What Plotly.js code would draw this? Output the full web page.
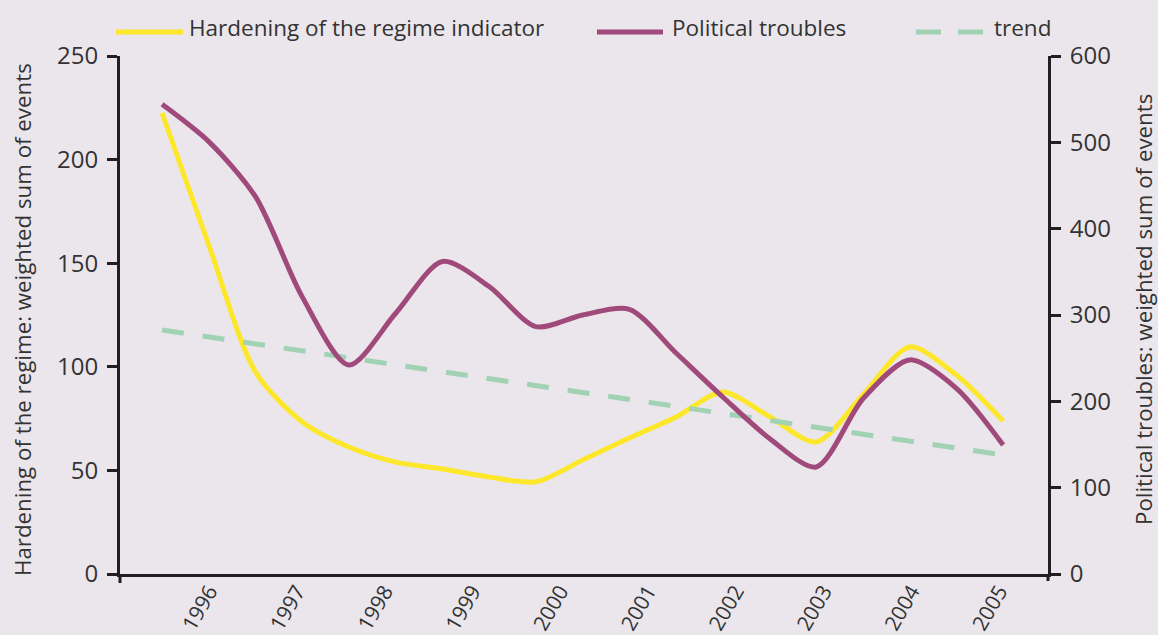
<!DOCTYPE html>
<html>
<head>
<meta charset="utf-8">
<script src="https://cdn.plot.ly/plotly-3.0.1.min.js"></script>
<style>
html,body{margin:0;padding:0;background:#ebe6ec;}
#chart{width:1158px;height:635px;}
</style>
</head>
<body>
<div id="chart"></div>
<script>
// ---- data ----
const years = [1996, 1997, 1998, 1999, 2000, 2001, 2002, 2003, 2004, 2005];
const yearLabels = ['1996', '1997', '1998', '1999', '2000', '2001', '2002', '2003', '2004', '2005'];
const period = [1996, 1996.5, 1997, 1997.5, 1998, 1998.5, 1999, 1999.5, 2000, 2000.5,
                2001, 2001.5, 2002, 2002.5, 2003, 2003.5, 2004, 2004.5, 2005];
const hardening = [222.5, 158.8, 97.5, 73.4, 61.3, 54, 50.7, 46.8, 44.5, 55,
                   65.6, 75.8, 87.8, 76, 63.7, 86.4, 109.6, 96, 73.8];
const troubles = [544, 500.8, 437, 321, 242, 302, 362, 333, 286.5, 300,
                  306.6, 256, 205, 157, 124, 203, 248, 215, 149.4];
const trendX = [1996, 2005];
const trendY = [282.6, 137.8];

const seriesNames = ['Hardening of the regime indicator', 'Political troubles', 'trend'];
const leftTitle = 'Hardening of the regime: weighted sum of events';
const rightTitle = 'Political troubles: weighted sum of events';

// ---- style ----
const BG = '#ebe6ec';
const YELLOW = '#fde72a';
const PURPLE = '#a04a7c';
const GREEN = '#a0d2b3';
const INK = '#231f20';
const TXT = '#333333';
const FONT = 'Open Sans, Liberation Sans, sans-serif';

// plot area in pixels
const L = 120, R = 1048, T = 56, B = 574;
const px = x => (x - L) / (R - L);
const py = y => (B - y) / (B - T);

const traces = [
  {x: period, y: hardening, type: 'scatter', mode: 'lines', name: seriesNames[0],
   line: {color: YELLOW, width: 5, shape: 'spline', smoothing: 0.8}, yaxis: 'y', xaxis: 'x'},
  {x: period, y: troubles, type: 'scatter', mode: 'lines', name: seriesNames[1],
   line: {color: PURPLE, width: 5, shape: 'spline', smoothing: 0.8}, yaxis: 'y2', xaxis: 'x'},
  {x: trendX, y: trendY, type: 'scatter', mode: 'lines', name: seriesNames[2],
   line: {color: GREEN, width: 5, dash: '22px,19px'}, yaxis: 'y2', xaxis: 'x'},
  // carrier for the year-label axis
  {x: years, y: years.map(() => null), type: 'scatter', mode: 'lines', xaxis: 'x2', yaxis: 'y',
   showlegend: false, hoverinfo: 'skip'}
];
// put the trend beneath the others
const ordered = [traces[2], traces[0], traces[1], traces[3]];

const legendItems = [
  {x0: 116, x1: 183, tx: 187, color: YELLOW, dash: 'solid', name: seriesNames[0]},
  {x0: 597, x1: 663, tx: 670, color: PURPLE, dash: 'solid', name: seriesNames[1]},
  {x0: 916, x1: 983, tx: 992, color: GREEN, dash: '25px,17px', name: seriesNames[2]}
];

const shapes = [];
const annotations = [];
legendItems.forEach(it => {
  shapes.push({type: 'line', xref: 'paper', yref: 'paper', x0: px(it.x0), x1: px(it.x1),
    y0: py(32), y1: py(32), line: {color: it.color, width: 5, dash: it.dash}});
  annotations.push({xref: 'paper', yref: 'paper', x: px(it.tx), y: py(27), xanchor: 'left', yanchor: 'middle',
    text: it.name, showarrow: false, font: {family: FONT, size: 22.5, color: TXT}});
});
// axis line extensions below the x axis
shapes.push({type: 'line', xref: 'paper', yref: 'paper', x0: 0, x1: 0, y0: 0, y1: py(583), line: {color: INK, width: 3}});
shapes.push({type: 'line', xref: 'paper', yref: 'paper', x0: 1, x1: 1, y0: 0, y1: py(581), line: {color: INK, width: 3}});

annotations.push({xref: 'paper', yref: 'paper', x: px(22), y: py(320), textangle: -90, text: leftTitle,
  showarrow: false, xanchor: 'center', yanchor: 'middle', font: {family: FONT, size: 22.3, color: TXT}});
annotations.push({xref: 'paper', yref: 'paper', x: px(1143), y: py(310), textangle: -90, text: rightTitle,
  showarrow: false, xanchor: 'center', yanchor: 'middle', font: {family: FONT, size: 22.3, color: TXT}});

const layout = {
  width: 1158, height: 635,
  paper_bgcolor: BG, plot_bgcolor: BG,
  margin: {l: L, r: 1158 - R, t: T, b: 635 - B, pad: 0},
  showlegend: false,
  font: {family: FONT, color: TXT},
  xaxis: {range: [1995.55, 2005.48], showgrid: false, zeroline: false, showticklabels: false,
          ticks: '', showline: true, linecolor: INK, linewidth: 3, fixedrange: true},
  xaxis2: {overlaying: 'x', side: 'bottom', range: [1994.985, 2005.557], tickvals: years, ticktext: yearLabels,
           tickangle: -60, showgrid: false, zeroline: false, showline: false, ticks: '',
           tickfont: {family: FONT, size: 21, color: TXT}},
  yaxis: {range: [0, 250], tickvals: [0, 50, 100, 150, 200, 250], showgrid: false, zeroline: false,
          showline: true, linecolor: INK, linewidth: 3, ticks: 'outside', ticklen: 10, tickwidth: 3,
          tickcolor: INK, tickfont: {family: FONT, size: 24, color: TXT}, ticklabelstandoff: 4},
  yaxis2: {range: [0, 600], tickvals: [0, 100, 200, 300, 400, 500, 600], overlaying: 'y', side: 'right',
           showgrid: false, zeroline: false, showline: true, linecolor: INK, linewidth: 3,
           ticks: 'outside', ticklen: 10, tickwidth: 3, tickcolor: INK,
           tickfont: {family: FONT, size: 24, color: TXT}, ticklabelstandoff: 4},
  shapes: shapes,
  annotations: annotations
};

Plotly.newPlot('chart', ordered, layout, {displayModeBar: false, staticPlot: true});
</script>
</body>
</html>
